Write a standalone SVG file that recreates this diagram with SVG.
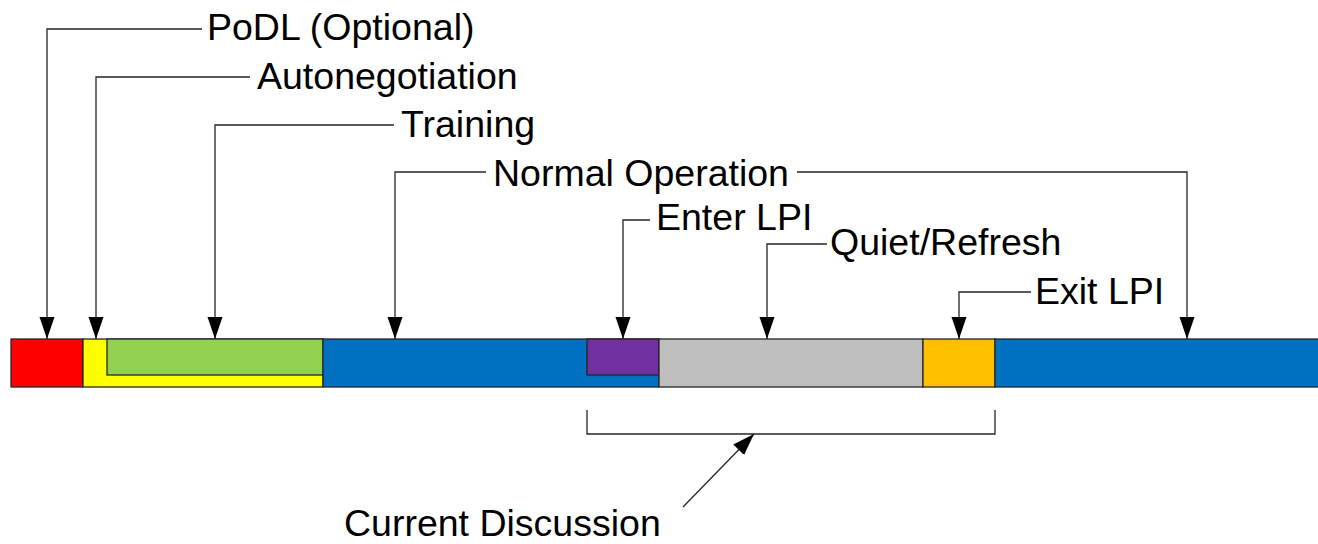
<svg xmlns="http://www.w3.org/2000/svg" width="1318" height="544" viewBox="0 0 1318 544">
<style>
.seg{stroke:#262626;stroke-width:1.3}
.ln{fill:none;stroke:#262626;stroke-width:1.3}
.lbl{font-family:"Liberation Sans",Arial,sans-serif;font-size:37.5px;fill:#000}
</style>
<defs>
<marker id="ah" markerUnits="userSpaceOnUse" markerWidth="24" markerHeight="16" refX="22" refY="8" orient="auto" viewBox="0 0 24 16">
<path d="M0,0.5 L22,8 L0,15.5 Z" fill="#000"/>
</marker>
</defs>
<rect width="1318" height="544" fill="#fff"/>
<g id="bar">
<g id="podl-seg"><rect class="seg" x="11" y="339" width="72" height="48" fill="#FF0000"/></g>
<g id="autoneg-seg"><rect class="seg" x="83" y="339" width="240" height="48" fill="#FFFF00"/></g>
<g id="training-seg"><rect class="seg" x="107" y="339" width="216" height="36" fill="#92D050"/></g>
<g id="normal-seg1"><rect class="seg" x="323" y="339" width="336" height="48" fill="#0070C0"/></g>
<g id="enter-seg"><rect class="seg" x="587" y="339" width="72" height="36" fill="#7030A0"/></g>
<g id="quiet-seg"><rect class="seg" x="659" y="339" width="264" height="48" fill="#BFBFBF"/></g>
<g id="exit-seg"><rect class="seg" x="923" y="339" width="72" height="48" fill="#FFC000"/></g>
<g id="normal-seg2"><rect class="seg" x="995" y="339" width="330" height="48" fill="#0070C0"/></g>
</g>
<g id="labels">
<g id="podl"><text class="lbl" x="207" y="40">PoDL (Optional)</text></g>
<g id="autoneg"><text class="lbl" x="257" y="89">Autonegotiation</text></g>
<g id="training"><text class="lbl" x="401" y="137">Training</text></g>
<g id="normal"><text class="lbl" x="493" y="186">Normal Operation</text></g>
<g id="enter"><text class="lbl" x="656" y="230">Enter LPI</text></g>
<g id="quiet"><text class="lbl" x="830" y="255">Quiet/Refresh</text></g>
<g id="exit"><text class="lbl" x="1035" y="304">Exit LPI</text></g>
<g id="current"><text class="lbl" x="344" y="536">Current Discussion</text></g>
</g>
<g id="connectors">
<polyline class="ln" points="202,29 47,29 47,339" marker-end="url(#ah)"/>
<polyline class="ln" points="250,77 96,77 96,339" marker-end="url(#ah)"/>
<polyline class="ln" points="394,125 215,125 215,339" marker-end="url(#ah)"/>
<polyline class="ln" points="486,172 395,172 395,339" marker-end="url(#ah)"/>
<polyline class="ln" points="797,172 1187,172 1187,339" marker-end="url(#ah)"/>
<polyline class="ln" points="650,220 623,220 623,339" marker-end="url(#ah)"/>
<polyline class="ln" points="827,244 767,244 767,339" marker-end="url(#ah)"/>
<polyline class="ln" points="1031,292 959,292 959,339" marker-end="url(#ah)"/>
<polyline class="ln" points="587,410 587,434 995,434 995,410"/>
<line class="ln" x1="683" y1="507" x2="754" y2="434" marker-end="url(#ah)"/>
</g>
</svg>
